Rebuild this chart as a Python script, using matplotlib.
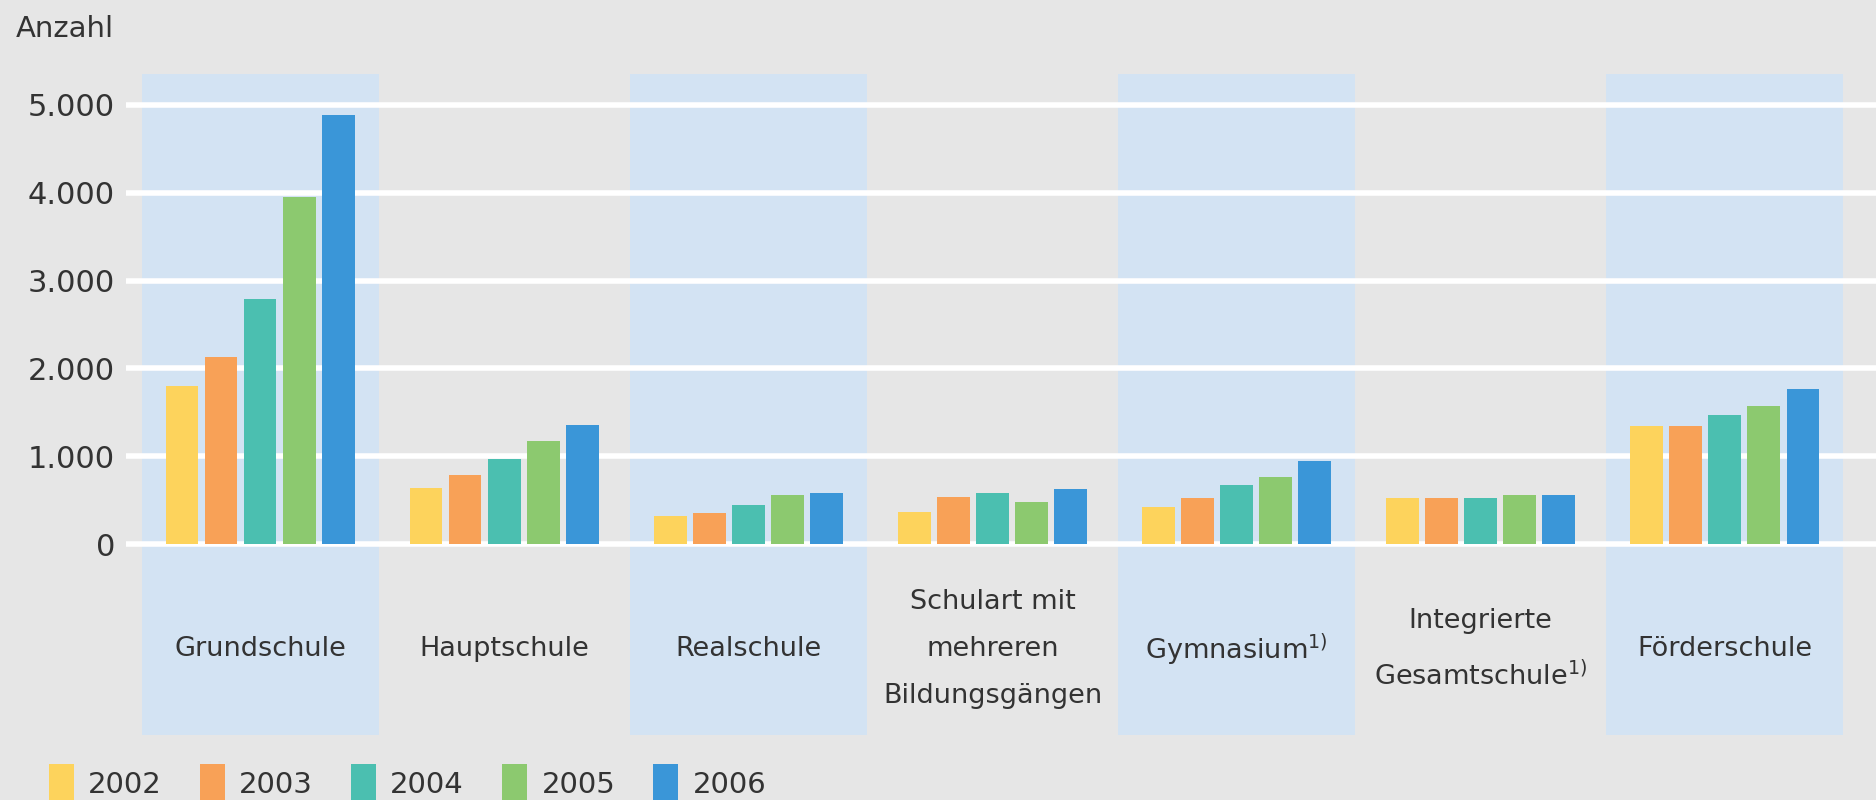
import numpy as np
import matplotlib.pyplot as plt
from matplotlib.patches import Patch

# Schulen nach Schulart, Anzahl je Jahr
categories = ["Grundschule", "Hauptschule", "Realschule",
              "Schulart mit\nmehreren\nBildungsgängen",
              r"Gymnasium$^{\mathregular{1)}}$",
              "Integrierte\n" + r"Gesamtschule$^{\mathregular{1)}}$",
              "Förderschule"]
years = ["2002", "2003", "2004", "2005", "2006"]
v2002 = [1800, 640, 320, 370, 420, 525, 1345]
v2003 = [2125, 785, 350, 530, 525, 525, 1345]
v2004 = [2795, 970, 440, 585, 670, 525, 1475]
v2005 = [3950, 1175, 555, 475, 760, 555, 1570]
v2006 = [4890, 1360, 583, 625, 940, 555, 1770]
series = [v2002, v2003, v2004, v2005, v2006]
yticks = [0, 1000, 2000, 3000, 4000, 5000]
ytick_labels = ["0", "1.000", "2.000", "3.000", "4.000", "5.000"]

colors = ["#fdd35c", "#f8a157", "#4bbfb0", "#8cc96f", "#3a96d8"]
bg = "#e6e6e6"
band = "#d3e3f3"
txt = "#333333"

plt.rcParams['font.family'] = ['DejaVu Sans']

fig = plt.figure(figsize=(18.76, 8), dpi=100, facecolor=bg)
ax = fig.add_axes([126 / 1876, 1 - 735 / 800, 1 - 126 / 1876, (735 - 74) / 800])
ax.set_facecolor(bg)
for s in ax.spines.values():
    s.set_visible(False)

x = np.arange(len(categories))
ax.set_xlim(-0.55, 6.62)
ax.set_ylim(-2175, 5353)

# alternating light blue column bands
for i in range(0, len(categories), 2):
    ax.axvspan(i - 0.485, i + 0.485, color=band, zorder=0, lw=0)

for yv in yticks:
    ax.axhline(yv, color="white", lw=4, zorder=1)

bw = 0.133
step = 0.16
for j, (vals, c) in enumerate(zip(series, colors)):
    ax.bar(x + (j - 2) * step, vals, width=bw, color=c, zorder=2, lw=0)

ax.set_xticks([])
ax.set_yticks(yticks)
ax.set_yticklabels(ytick_labels, fontsize=22, color=txt)
ax.tick_params(axis='y', length=0, pad=8)

for i, lab in enumerate(categories):
    ax.text(i, -1200, lab, ha='center', va='center', fontsize=19.5,
            color=txt, linespacing=2.05)

fig.text(16 / 1876, 1 - 29 / 800, "Anzahl", fontsize=21, color=txt,
         ha='left', va='center')

handles = [Patch(facecolor=c, edgecolor='none') for c in colors]
fig.legend(handles, years, loc='lower left', bbox_to_anchor=(0.012, -0.035),
           ncol=5, frameon=False, fontsize=21, handlelength=0.85,
           handleheight=1.6, handletextpad=0.5, columnspacing=1.3,
           labelcolor=txt)

fig.savefig("out.png", dpi=100, facecolor=bg)
